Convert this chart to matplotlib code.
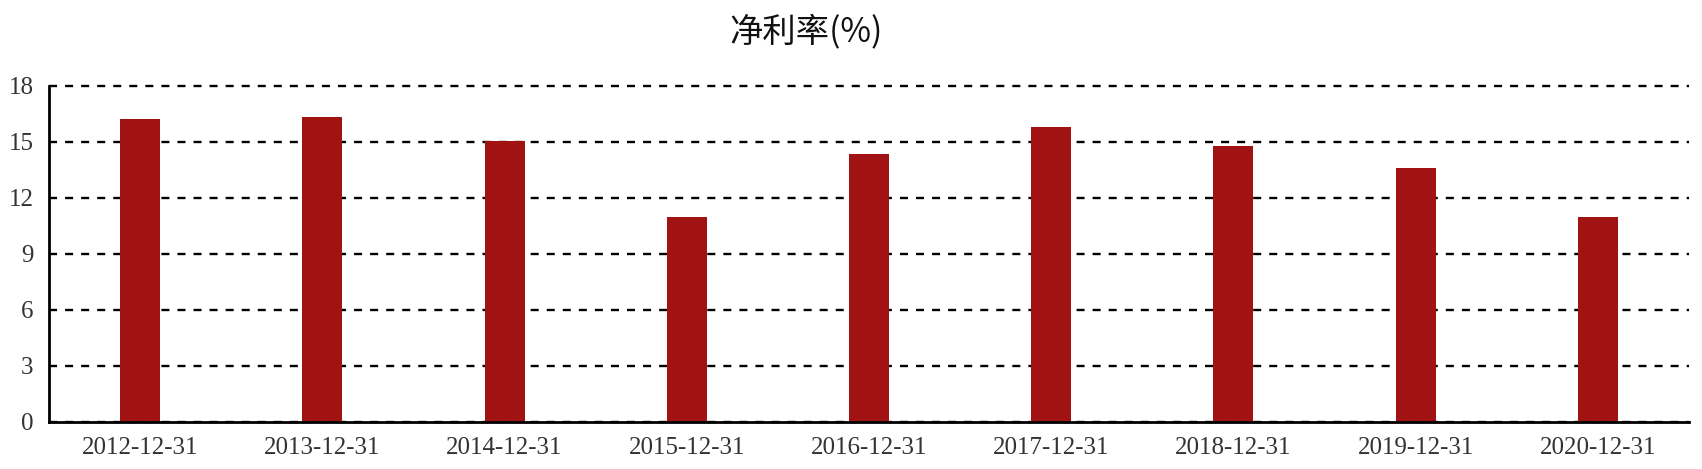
import matplotlib.pyplot as plt

# 净利率 bar chart, one bar per year end
dates = ['2012-12-31', '2013-12-31', '2014-12-31', '2015-12-31', '2016-12-31',
         '2017-12-31', '2018-12-31', '2019-12-31', '2020-12-31']
net_margin = [16.2, 16.33, 15.01, 10.98, 14.33, 15.77, 14.76, 13.58, 10.95]
y_ticks = [0, 3, 6, 9, 12, 15, 18]

plt.rcParams['font.family'] = ['Liberation Serif', 'Noto Sans CJK SC']

fig = plt.figure(figsize=(17.02, 4.69), dpi=100)
ax = fig.add_axes([49 / 1702, 47.5 / 469, (1689 - 49) / 1702, (421.5 - 85.7) / 469])

x = range(len(dates))
ax.bar(x, net_margin, width=0.22, color='#A11313', zorder=3)

ax.set_xlim(-0.5, len(dates) - 0.5)
ax.set_ylim(0, 18)
ax.set_yticks(y_ticks)
ax.set_xticks(list(x))
ax.set_xticklabels(dates)

ax.grid(axis='y', color='black', linewidth=1.7, linestyle=(0, (3.4, 3.4)), zorder=1)
ax.grid(axis='x', visible=False)
# top gridline sits on the axes edge, don't let it get cut in half
for gl in ax.get_ygridlines():
    gl.set_clip_on(False)

for side in ['top', 'right']:
    ax.spines[side].set_visible(False)
for side in ['left', 'bottom']:
    ax.spines[side].set_linewidth(2)
    ax.spines[side].set_zorder(4)

ax.tick_params(axis='both', length=0, labelsize=18, colors='#333333')
ax.tick_params(axis='x', pad=11)
ax.tick_params(axis='y', pad=11)

fig.text(806 / 1702, 1 - 32 / 469, '净利率(%)', ha='center', va='center',
         fontsize=24, family=['Noto Sans CJK SC', 'DejaVu Sans'], color='#111111')

fig.savefig('out.png', dpi=100)
